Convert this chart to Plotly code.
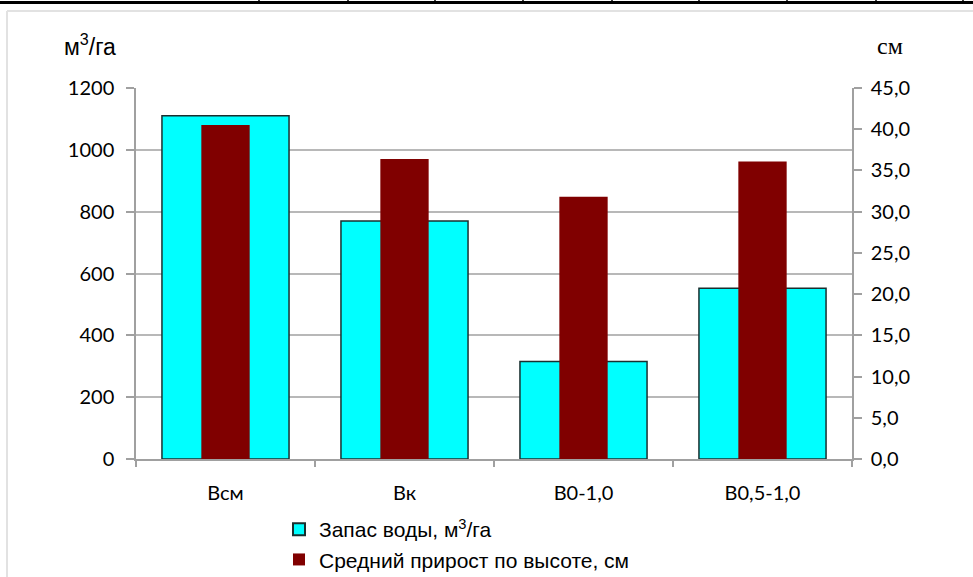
import plotly.graph_objects as go

# Groups and measured values
categories = ["Всм", "Вк", "В0-1,0", "В0,5-1,0"]
water_stock = [1110, 770, 315, 552]          # м³/га, left axis
height_growth = [40.5, 36.4, 31.8, 36.1]     # см, right axis

left_ticks = [0, 200, 400, 600, 800, 1000, 1200]
right_ticks = [0, 5, 10, 15, 20, 25, 30, 35, 40, 45]
right_ticklabels = ["0,0", "5,0", "10,0", "15,0", "20,0", "25,0",
                    "30,0", "35,0", "40,0", "45,0"]

W, H = 973, 577
L, R, T, B = 136, 852, 88, 459


def px(x):
    return (x - L) / (R - L)


def py(y):
    return (B - y) / (B - T)


fig = go.Figure()
fig.add_trace(go.Bar(
    x=categories, y=water_stock, name="Запас воды, м<sup>3</sup>/га",
    width=0.71, marker=dict(color="#00ffff", line=dict(color="#1a2f2f", width=1.5)),
    yaxis="y",
))
fig.add_trace(go.Bar(
    x=categories, y=height_growth, name="Средний прирост по высоте, см",
    width=0.27, marker=dict(color="#800000", line=dict(width=0)),
    yaxis="y2",
))

tick_font = dict(family="Lato", size=20, color="#000000")

fig.update_layout(
    width=W, height=H,
    margin=dict(l=L, r=W - R, t=T, b=H - B, autoexpand=False),
    paper_bgcolor="white", plot_bgcolor="white",
    barmode="overlay",
    showlegend=True,
    legend=dict(
        x=px(279), y=py(509), xanchor="left", yanchor="top",
        font=dict(family="Liberation Sans, Arial", size=21, color="#000000"),
        bgcolor="rgba(0,0,0,0)", tracegroupgap=0, itemsizing="constant",
    ),
    xaxis=dict(
        type="category", showgrid=False,
        showline=True, linecolor="#a0a0a0", linewidth=1.5,
        ticks="outside", tickson="boundaries", ticklen=6, tickcolor="#a0a0a0",
        tickwidth=1.5, tickfont=dict(family="Lato", size=20, color="#000000"),
        ticklabelstandoff=15,
    ),
    yaxis=dict(
        range=[0, 1200], tickvals=left_ticks,
        showgrid=True, gridcolor="#b8b8b8", gridwidth=1.5,
        showline=True, linecolor="#a0a0a0", linewidth=1.5,
        ticks="outside", ticklen=8, tickcolor="#a0a0a0", tickwidth=1.5,
        tickfont=tick_font, ticklabelstandoff=8, zeroline=False,
    ),
    yaxis2=dict(
        range=[0, 45], overlaying="y", side="right",
        tickvals=right_ticks, ticktext=right_ticklabels,
        showgrid=False, zeroline=False,
        showline=True, linecolor="#a0a0a0", linewidth=1.5,
        ticks="outside", ticklen=8, tickcolor="#a0a0a0", tickwidth=1.5,
        tickfont=tick_font, ticklabelstandoff=5,
    ),
)

# Axis unit captions
fig.add_annotation(
    x=px(90), y=py(45), xref="paper", yref="paper", showarrow=False,
    text="м<sup>3</sup>/га", xanchor="center", yanchor="middle",
    font=dict(family="Liberation Sans, Arial", size=23, color="#000000"),
)
fig.add_annotation(
    x=px(890), y=py(46), xref="paper", yref="paper", showarrow=False,
    text="см", xanchor="center", yanchor="middle",
    font=dict(family="Liberation Serif, Times New Roman", size=24, color="#000000"),
)

# Chart frame and the page rule above it
shapes = [
    dict(type="line", xref="paper", yref="paper",
         x0=px(7), x1=px(1000), y0=py(11), y1=py(11),
         line=dict(color="#e2e2e2", width=2)),
    dict(type="line", xref="paper", yref="paper",
         x0=px(7), x1=px(7), y0=py(11), y1=py(600),
         line=dict(color="#e2e2e2", width=2)),
    dict(type="line", xref="paper", yref="paper",
         x0=px(-5), x1=px(1000), y0=py(2.5), y1=py(2.5),
         line=dict(color="#000000", width=3)),
]
for xv in [259, 348, 435, 523, 612, 699, 787, 876, 963]:
    shapes.append(dict(type="line", xref="paper", yref="paper",
                       x0=px(xv), x1=px(xv), y0=py(-2), y1=py(3),
                       line=dict(color="#000000", width=1.5)))
fig.update_layout(shapes=shapes)

fig.write_html("out.html")
